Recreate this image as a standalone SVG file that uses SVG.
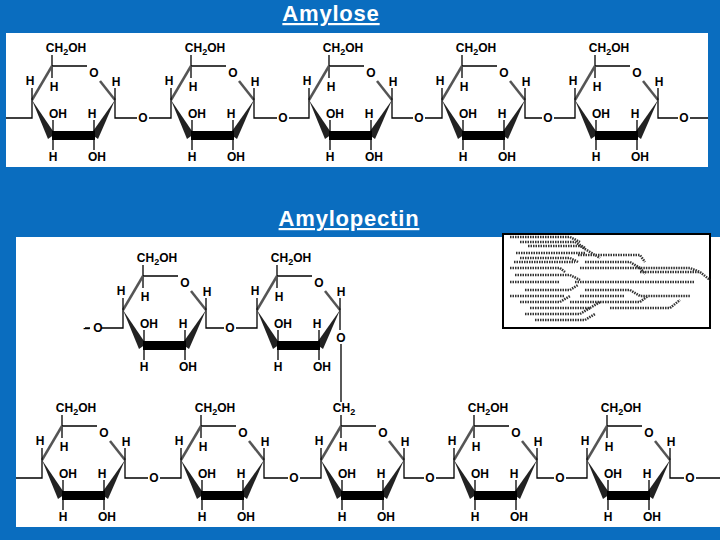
<svg xmlns="http://www.w3.org/2000/svg" width="720" height="540" viewBox="0 0 720 540">
<style>
text{font-family:"Liberation Sans",Arial,sans-serif;font-weight:bold;font-size:12px;fill:#000;text-anchor:middle}
.t{fill:#fff;font-size:22px;text-decoration:underline;letter-spacing:0.8px}
.b{stroke:#000;stroke-width:1.3;fill:none}
.g{stroke:#555;stroke-width:2.5;fill:none}
.d{stroke:#333;stroke-width:2.5;stroke-dasharray:1.5 1;fill:none}
</style>
<defs>
<g id="ring">
<line class="b" x1="52" y1="55" x2="52" y2="78"/>
<line class="b" x1="52" y1="66" x2="87" y2="66"/>
<text x="94" y="77">O</text>
<line class="g" x1="100" y1="81" x2="115" y2="100"/>
<line class="g" x1="32" y1="100" x2="52" y2="66"/>
<polygon points="115,100 98,139 91,134" fill="#222"/>
<polygon points="32,100 55,134 48,139" fill="#222"/>
<rect x="52" y="131" width="43" height="9" fill="#000"/>
<line class="b" x1="32" y1="88" x2="32" y2="100"/>
<text x="30" y="85">H</text>
<text x="54" y="91">H</text>
<line class="b" x1="115" y1="88" x2="115" y2="100"/>
<text x="116" y="86">H</text>
<line class="b" x1="53" y1="120" x2="53" y2="134"/>
<text x="58" y="118">OH</text>
<line class="b" x1="94" y1="120" x2="94" y2="134"/>
<text x="92" y="118">H</text>
<line class="b" x1="53" y1="138" x2="53" y2="150"/>
<text x="53" y="161">H</text>
<line class="b" x1="94" y1="138" x2="94" y2="150"/>
<text x="97" y="161">OH</text>
</g>
<g id="c2oh"><text x="66" y="52">CH<tspan font-size="9" dy="3">2</tspan><tspan dy="-3">OH</tspan></text></g>
</defs>
<rect width="720" height="540" fill="#0a6dbf"/>
<rect x="6" y="33" width="702" height="134" fill="#fff"/>
<rect x="16" y="237" width="704" height="290" fill="#fff"/>
<text class="t" x="331" y="21">Amylose</text>
<text class="t" x="349" y="226">Amylopectin</text>

<g id="amylose">
<g id="a1"><use href="#ring"/><use href="#c2oh"/></g>
<g id="a2" transform="translate(139,0)"><use href="#ring"/><use href="#c2oh"/></g>
<g id="a3" transform="translate(277,0)"><use href="#ring"/><use href="#c2oh"/></g>
<g id="a4" transform="translate(410,0)"><use href="#ring"/><use href="#c2oh"/></g>
<g id="a5" transform="translate(543,0)"><use href="#ring"/><use href="#c2oh"/></g>
</g>
<g id="amylose-links">
<path class="b" d="M6,118H32V100 M115,100V118H137 M149,118H171V100 M254,100V118H277 M289,118H309V100 M392,100V118H413 M425,118H442V100 M525,100V118H542 M554,118H575V100 M658,100V118H678 M690,118H708"/>
<text x="143" y="122">O</text><text x="283" y="122">O</text><text x="419" y="122">O</text><text x="548" y="122">O</text><text x="684" y="122">O</text>
</g>

<g id="p-top1" transform="translate(91,210)"><use href="#ring"/><use href="#c2oh"/></g>
<g id="p-top2" transform="translate(225,210)"><use href="#ring"/><use href="#c2oh"/></g>
<g id="p-b1" transform="translate(10,360)"><use href="#ring"/><use href="#c2oh"/></g>
<g id="p-b2" transform="translate(149,360)"><use href="#ring"/><use href="#c2oh"/></g>
<g id="p-b3" transform="translate(289,360)"><use href="#ring"/><text x="55" y="52">CH<tspan font-size="9" dy="3">2</tspan></text></g>
<g id="p-b4" transform="translate(422,360)"><use href="#ring"/><use href="#c2oh"/></g>
<g id="p-b5" transform="translate(555,360)"><use href="#ring"/><use href="#c2oh"/></g>

<g id="p-links">
<path class="b" d="M85,328H90 M101,328H123V310 M206,310V328H224 M236,328H257V310 M340,310V330 M341,344V402"/>
<text x="93" y="332">– O</text><text x="230" y="332">O</text><text x="341" y="342">O</text>
<path class="b" d="M16,478H42V460 M125,460V478H148 M160,478H181V460 M264,460V478H288 M300,478H321V460 M404,460V478H424 M436,478H454V460 M537,460V478H554 M566,478H587V460 M670,460V478H684 M696,478H720"/>
<text x="154" y="482">O</text><text x="294" y="482">O</text><text x="430" y="482">O</text><text x="560" y="482">O</text><text x="690" y="482">O</text>
</g>

<g id="inset">
<rect x="503" y="234" width="207" height="94" fill="#fff" stroke="#000" stroke-width="2"/>
<path class="d" d="M510,237H570L580,242 M520,242H575L585,248 M528,246H580L590,252L600,258 M516,253H585 M520,258H570L578,262 M578,255H640L645,262 M514,262H575 M510,268H560L565,272 M585,262H630L640,268H690L700,272 M580,268H640L645,274 M515,275H570L580,280 M575,282H640 M640,272H700L710,280 M640,282H695 M510,282H560 M525,290H570L578,285 M585,290H630L640,296H690 M510,296H565 M580,296H625 M520,302H560L570,296 M570,302H640L648,296 M530,308H590L600,302 M525,314H580L590,308 M535,320H585L595,314 M610,308H670L680,300"/>
</g>
</svg>
